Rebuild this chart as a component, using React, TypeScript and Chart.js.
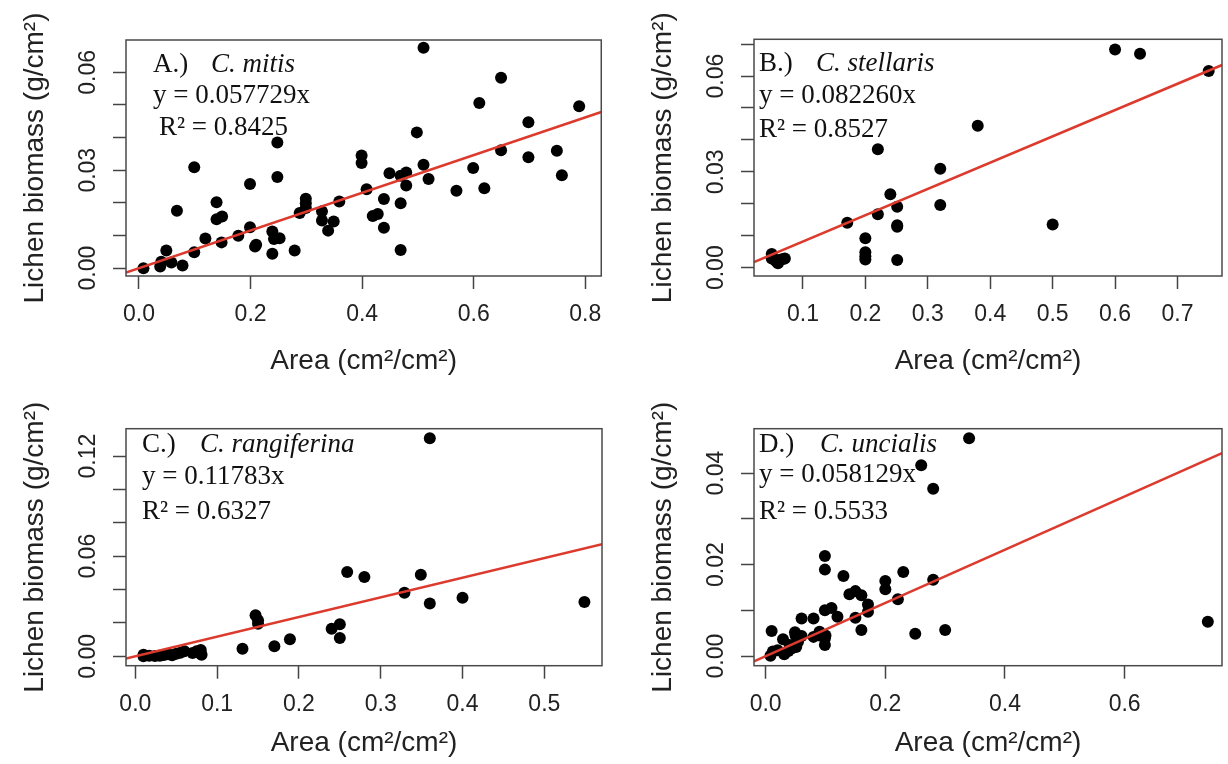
import React, { useEffect, useRef } from 'react';
import { Chart, registerables } from 'chart.js';

Chart.register(...registerables);

// ---------- Panel A: C. mitis ----------
const aX = [0.008, 0.038, 0.040, 0.049, 0.058, 0.078, 0.068, 0.099, 0.099, 0.119, 0.139, 0.139, 0.149, 0.148, 0.178, 0.199, 0.199, 0.208, 0.210, 0.239, 0.239, 0.242, 0.248, 0.248, 0.252, 0.279, 0.288, 0.299, 0.299, 0.299, 0.328, 0.328, 0.339, 0.349, 0.359, 0.399, 0.399, 0.408, 0.419, 0.428, 0.439, 0.439, 0.449, 0.469, 0.469, 0.469, 0.479, 0.479, 0.498, 0.510, 0.510, 0.519, 0.569, 0.599, 0.610, 0.619, 0.649, 0.649, 0.698, 0.698, 0.749, 0.758, 0.789];
const aY = [0.0000, 0.0005, 0.0020, 0.0054, 0.0017, 0.0008, 0.0176, 0.0309, 0.0049, 0.0091, 0.0202, 0.0150, 0.0158, 0.0079, 0.0099, 0.0258, 0.0125, 0.0066, 0.0072, 0.0044, 0.0112, 0.0089, 0.0385, 0.0279, 0.0092, 0.0054, 0.0169, 0.0213, 0.0199, 0.0184, 0.0174, 0.0146, 0.0115, 0.0143, 0.0204, 0.0345, 0.0322, 0.0242, 0.0160, 0.0166, 0.0212, 0.0124, 0.0291, 0.0199, 0.0056, 0.0283, 0.0293, 0.0253, 0.0416, 0.0675, 0.0317, 0.0273, 0.0237, 0.0307, 0.0506, 0.0245, 0.0583, 0.0361, 0.0447, 0.0340, 0.0360, 0.0285, 0.0496];
const aSlope = 0.057729;
const aXTicks = [0, 0.2, 0.4, 0.6, 0.8];
const aXLabels = ['0.0', '0.2', '0.4', '0.6', '0.8'];
const aYTicks = [0, 0.01, 0.02, 0.03, 0.04, 0.05, 0.06];
const aYLabels = ['0.00', '', '', '0.03', '', '', '0.06'];

// ---------- Panel B: C. stellaris ----------
const bX = [0.050, 0.050, 0.056, 0.060, 0.063, 0.068, 0.071, 0.171, 0.200, 0.200, 0.200, 0.200, 0.220, 0.220, 0.240, 0.251, 0.251, 0.251, 0.251, 0.320, 0.320, 0.380, 0.500, 0.600, 0.640, 0.750];
const bY = [0.0043, 0.0029, 0.0022, 0.0014, 0.0025, 0.0027, 0.0029, 0.0141, 0.0092, 0.0048, 0.0036, 0.0026, 0.0371, 0.0167, 0.0230, 0.0191, 0.0133, 0.0128, 0.0024, 0.0310, 0.0196, 0.0444, 0.0135, 0.0683, 0.0670, 0.0616];
const bSlope = 0.08226;
const bXTicks = [0.1, 0.2, 0.3, 0.4, 0.5, 0.6, 0.7];
const bXLabels = ['0.1', '0.2', '0.3', '0.4', '0.5', '0.6', '0.7'];
const bYTicks = [0, 0.01, 0.02, 0.03, 0.04, 0.05, 0.06, 0.07];
const bYLabels = ['0.00', '', '', '0.03', '', '', '0.06', ''];

// ---------- Panel C: C. rangiferina ----------
const cX = [0.010, 0.010, 0.017, 0.024, 0.030, 0.035, 0.040, 0.045, 0.050, 0.055, 0.060, 0.070, 0.075, 0.080, 0.080, 0.081, 0.131, 0.147, 0.150, 0.150, 0.170, 0.189, 0.240, 0.250, 0.250, 0.259, 0.280, 0.329, 0.349, 0.360, 0.360, 0.400, 0.549];
const cY = [0.0010, 0.0000, 0.0004, 0.0002, 0.0003, 0.0008, 0.0012, 0.0006, 0.0015, 0.0022, 0.0030, 0.0020, 0.0030, 0.0016, 0.0038, 0.0010, 0.0046, 0.0246, 0.0216, 0.0196, 0.0060, 0.0102, 0.0166, 0.0192, 0.0110, 0.0505, 0.0475, 0.0381, 0.0489, 0.1307, 0.0317, 0.0351, 0.0325];
const cSlope = 0.11783;
const cXTicks = [0, 0.1, 0.2, 0.3, 0.4, 0.5];
const cXLabels = ['0.0', '0.1', '0.2', '0.3', '0.4', '0.5'];
const cYTicks = [0, 0.02, 0.04, 0.06, 0.08, 0.10, 0.12];
const cYLabels = ['0.00', '', '', '0.06', '', '', '0.12'];

// ---------- Panel D: C. uncialis ----------
const dX = [0.010, 0.008, 0.012, 0.020, 0.029, 0.031, 0.038, 0.040, 0.044, 0.049, 0.050, 0.051, 0.054, 0.055, 0.060, 0.060, 0.080, 0.080, 0.090, 0.090, 0.099, 0.099, 0.099, 0.099, 0.099, 0.100, 0.110, 0.120, 0.130, 0.140, 0.150, 0.150, 0.160, 0.160, 0.171, 0.171, 0.200, 0.200, 0.221, 0.230, 0.250, 0.260, 0.280, 0.280, 0.300, 0.340, 0.739];
const dY = [0.0055, 0.0001, 0.0010, 0.0013, 0.0037, 0.0004, 0.0011, 0.0024, 0.0017, 0.0052, 0.0045, 0.0020, 0.0031, 0.0042, 0.0044, 0.0082, 0.0082, 0.0042, 0.0053, 0.0045, 0.0039, 0.0024, 0.0219, 0.0189, 0.0100, 0.0045, 0.0105, 0.0086, 0.0175, 0.0135, 0.0142, 0.0084, 0.0133, 0.0057, 0.0113, 0.0097, 0.0164, 0.0146, 0.0124, 0.0184, 0.0049, 0.0417, 0.0366, 0.0167, 0.0057, 0.0476, 0.0075];
const dSlope = 0.058129;
const dXTicks = [0, 0.2, 0.4, 0.6];
const dXLabels = ['0.0', '0.2', '0.4', '0.6'];
const dYTicks = [0, 0.01, 0.02, 0.03, 0.04];
const dYLabels = ['0.00', '', '0.02', '', '0.04'];

const X_TITLE = 'Area (cm²/cm²)';
const Y_TITLE = 'Lichen biomass (g/cm²)';

const W = 614;
const H = 382;
const RED = '#dd3a2e';
const SANS = 'Liberation Sans, Arial, sans-serif';
const SERIF = '"Liberation Serif", "Times New Roman", serif';

type Note = { text: string; x: number; y: number; italic?: boolean };
type Panel = {
  id: string;
  left: number;
  top: number;
  xs: number[];
  ys: number[];
  slope: number;
  xMin: number; xMax: number; yMin: number; yMax: number;
  xTicks: number[]; xLabels: string[]; yTicks: number[]; yLabels: string[];
  box: { l: number; t: number; r: number; b: number };
  notes: Note[];
};

const panels: Panel[] = [
  {
    id: 'A', left: 0, top: 0, xs: aX, ys: aY, slope: aSlope,
    xMin: -0.0233, xMax: 0.8286, yMin: -0.0024, yMax: 0.0699,
    xTicks: aXTicks, xLabels: aXLabels, yTicks: aYTicks, yLabels: aYLabels,
    box: { l: 126, t: 40, r: 602, b: 276 },
    notes: [
      { text: 'A.)', x: 153, y: 71.7 },
      { text: 'C. mitis', x: 211, y: 71.7, italic: true },
      { text: 'y = 0.057729x', x: 153, y: 103.3 },
      { text: 'R² = 0.8425', x: 159, y: 135 },
    ],
  },
  {
    id: 'B', left: 614, top: 0, xs: bX, ys: bY, slope: bSlope,
    xMin: 0.0216, xMax: 0.7713, yMin: -0.0026, yMax: 0.0715,
    xTicks: bXTicks, xLabels: bXLabels, yTicks: bYTicks, yLabels: bYLabels,
    box: { l: 140, t: 39.3, r: 612.5, b: 276 },
    notes: [
      { text: 'B.)', x: 145, y: 71 },
      { text: 'C. stellaris', x: 202, y: 71, italic: true },
      { text: 'y = 0.082260x', x: 145, y: 102.7 },
      { text: 'R² = 0.8527', x: 145, y: 137 },
    ],
  },
  {
    id: 'C', left: 0, top: 382, xs: cX, ys: cY, slope: cSlope,
    xMin: -0.0114, xMax: 0.5705, yMin: -0.0056, yMax: 0.1364,
    xTicks: cXTicks, xLabels: cXLabels, yTicks: cYTicks, yLabels: cYLabels,
    box: { l: 126, t: 46.7, r: 602, b: 283.7 },
    notes: [
      { text: 'C.)', x: 142, y: 70 },
      { text: 'C. rangiferina', x: 200, y: 70, italic: true },
      { text: 'y = 0.11783x', x: 142, y: 101.7 },
      { text: 'R² = 0.6327', x: 142, y: 136.7 },
    ],
  },
  {
    id: 'D', left: 614, top: 382, xs: dX, ys: dY, slope: dSlope,
    xMin: -0.0195, xMax: 0.7627, yMin: -0.0021, yMax: 0.0497,
    xTicks: dXTicks, xLabels: dXLabels, yTicks: dYTicks, yLabels: dYLabels,
    box: { l: 140, t: 46.7, r: 612.5, b: 283.7 },
    notes: [
      { text: 'D.)', x: 145, y: 70 },
      { text: 'C. uncialis', x: 206, y: 70, italic: true },
      { text: 'y = 0.058129x', x: 145, y: 100 },
      { text: 'R² = 0.5533', x: 145, y: 136.7 },
    ],
  },
];

function makeConfig(p: Panel): any {
  const pts = p.xs.map((x, i) => ({ x, y: p.ys[i] }));
  const fit = [
    { x: p.xMin, y: p.slope * p.xMin },
    { x: p.xMax, y: p.slope * p.xMax },
  ];
  const framePlugin = {
    id: 'frame' + p.id,
    afterDraw(chart: any) {
      const { ctx, chartArea: a } = chart;
      ctx.save();
      ctx.strokeStyle = '#4a4a4a';
      ctx.lineWidth = 1.5;
      ctx.strokeRect(a.left, a.top, a.right - a.left, a.bottom - a.top);
      ctx.fillStyle = '#111';
      ctx.textAlign = 'left';
      ctx.textBaseline = 'alphabetic';
      for (const n of p.notes) {
        ctx.font = `${n.italic ? 'italic ' : ''}27px ${SERIF}`;
        ctx.fillText(n.text, n.x, n.y);
      }
      ctx.restore();
    },
  };
  const grid = {
    display: true,
    drawOnChartArea: false,
    drawTicks: true,
    tickLength: 13,
    tickWidth: 1.5,
    tickColor: '#444',
  };
  return {
    type: 'scatter',
    data: {
      datasets: [
        {
          type: 'line',
          data: fit,
          borderColor: RED,
          borderWidth: 2.5,
          pointRadius: 0,
          fill: false,
          tension: 0,
        },
        {
          type: 'scatter',
          data: pts,
          backgroundColor: '#000',
          borderColor: '#000',
          borderWidth: 0,
          pointRadius: 6,
        },
      ],
    },
    options: {
      responsive: false,
      animation: false,
      devicePixelRatio: 1,
      events: [],
      layout: { padding: { left: 0, bottom: 0, top: p.box.t, right: W - p.box.r } },
      plugins: { legend: { display: false }, tooltip: { enabled: false } },
      scales: {
        x: {
          type: 'linear',
          position: 'bottom',
          min: p.xMin,
          max: p.xMax,
          afterBuildTicks: (s: any) => { s.ticks = p.xTicks.map((v) => ({ value: v })); },
          afterFit: (s: any) => { s.height = H - p.box.b; },
          grid,
          border: { display: false },
          ticks: {
            autoSkip: false,
            minRotation: 0,
            maxRotation: 0,
            padding: 12.3,
            color: '#222',
            font: { family: SANS, size: 23 },
            callback: (_v: any, i: number) => p.xLabels[i],
          },
          title: {
            display: true,
            text: X_TITLE,
            color: '#222',
            font: { family: SANS, size: 28 },
            padding: { top: 0, bottom: 3.7 },
          },
        },
        y: {
          type: 'linear',
          position: 'left',
          min: p.yMin,
          max: p.yMax,
          afterBuildTicks: (s: any) => { s.ticks = p.yTicks.map((v) => ({ value: v })); },
          afterFit: (s: any) => { s.width = p.box.l; },
          grid,
          border: { display: false },
          ticks: {
            autoSkip: false,
            minRotation: 90,
            maxRotation: 90,
            crossAlign: 'center',
            padding: 1.6,
            color: '#222',
            font: { family: SANS, size: 23 },
            callback: (_v: any, i: number) => p.yLabels[i],
          },
          title: {
            display: true,
            text: Y_TITLE,
            color: '#222',
            font: { family: SANS, size: 28 },
            padding: { top: p.box.l - 91 - 16.8, bottom: 0 },
          },
        },
      },
    },
    plugins: [framePlugin],
  };
}

function PanelChart({ p }: { p: Panel }) {
  const ref = useRef<HTMLCanvasElement>(null);
  useEffect(() => {
    if (!ref.current) return;
    const chart = new Chart(ref.current, makeConfig(p));
    return () => chart.destroy();
  }, [p]);
  return (
    <canvas
      ref={ref}
      width={W}
      height={H}
      style={{ position: 'absolute', left: p.left, top: p.top, width: W, height: H }}
    />
  );
}

export default function App() {
  return (
    <div
      style={{
        position: 'absolute',
        left: 0,
        top: 0,
        width: 1228,
        height: 764,
        background: '#fff',
        overflow: 'hidden',
      }}
    >
      {panels.map((p) => (
        <PanelChart key={p.id} p={p} />
      ))}
    </div>
  );
}
